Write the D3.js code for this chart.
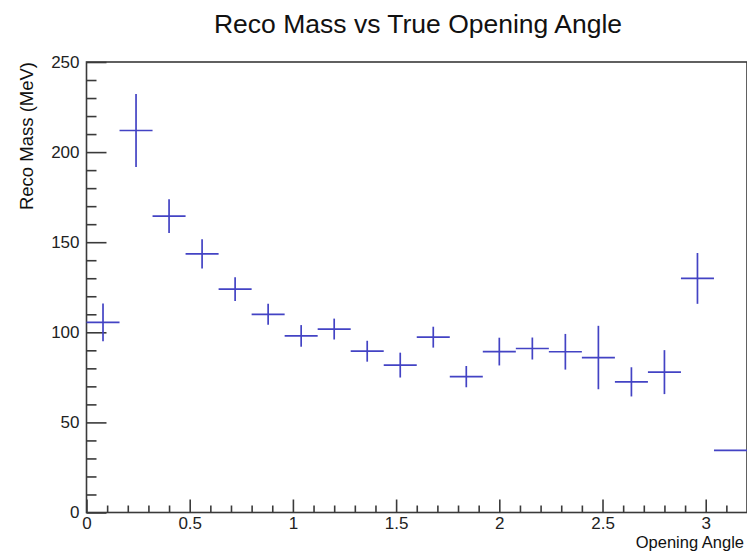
<!DOCTYPE html>
<html>
<head>
<meta charset="utf-8">
<script src="https://cdn.jsdelivr.net/npm/d3@7"></script>
<style>
  html, body { margin: 0; padding: 0; background: #fff; }
  svg { display: block; font-family: "Liberation Sans", Arial, Helvetica, sans-serif; }
</style>
</head>
<body>
<svg id="chart" width="747" height="552"></svg>
<script>
// ---- data ----
const binCenters = [0.08, 0.24, 0.40, 0.56, 0.72, 0.88, 1.04, 1.20, 1.36, 1.52,
                    1.68, 1.84, 2.00, 2.16, 2.32, 2.48, 2.64, 2.80, 2.96, 3.12];
const binHalfWidth = 0.08;
const recoMass = [105.5, 212, 164.5, 143.5, 124, 110, 98, 101.8, 89.5, 81.8,
                  97.3, 75.4, 89.3, 91, 89.2, 86, 72.5, 77.9, 129.9, 34.5];
const recoMassErr = [10.5, 20.3, 9.4, 8.1, 6.6, 5.8, 6.0, 5.8, 5.8, 6.9,
                     5.8, 5.9, 7.7, 6.1, 9.9, 17.6, 8.1, 12.2, 14.1, 0];
const xMajorTicks = [0, 0.5, 1, 1.5, 2, 2.5, 3];
const xTickLabels = ["0", "0.5", "1", "1.5", "2", "2.5", "3"];
const xMinorTicks = [0.1, 0.2, 0.3, 0.4, 0.6, 0.7, 0.8, 0.9, 1.1, 1.2, 1.3, 1.4,
                     1.6, 1.7, 1.8, 1.9, 2.1, 2.2, 2.3, 2.4, 2.6, 2.7, 2.8, 2.9, 3.1];
const yMajorTicks = [0, 50, 100, 150, 200, 250];
const yTickLabels = ["0", "50", "100", "150", "200", "250"];
const yMinorTicks = [10, 20, 30, 40, 60, 70, 80, 90, 110, 120, 130, 140,
                     160, 170, 180, 190, 210, 220, 230, 240];
const titleText = "Reco Mass vs True Opening Angle";
const xTitle = "Opening Angle";
const yTitle = "Reco Mass (MeV)";

// ---- layout ----
const svg = d3.select("#chart");
const x = d3.scaleLinear().domain([0, 3.2]).range([86.5, 747]);
const y = d3.scaleLinear().domain([0, 250]).range([512.5, 62]);
const axisColor = "#3a3a3a";
const markColor = "#4343c4";

// frame
svg.append("rect")
  .attr("x", x(0)).attr("y", y(250))
  .attr("width", x(3.2) - x(0)).attr("height", y(0) - y(250))
  .attr("fill", "none").attr("stroke", axisColor).attr("stroke-width", 1.6);

// y axis
const yMajor = d3.axisLeft(y).tickValues(yMajorTicks)
  .tickFormat((d, i) => yTickLabels[i])
  .tickSizeInner(-20).tickSizeOuter(0).tickPadding(7);
const yMinor = d3.axisLeft(y).tickValues(yMinorTicks)
  .tickFormat("").tickSizeInner(-10).tickSizeOuter(0);
const gy = svg.append("g").attr("transform", `translate(${x(0)},0)`).call(yMajor);
const gy2 = svg.append("g").attr("transform", `translate(${x(0)},0)`).call(yMinor);

// x axis
const xMajor = d3.axisBottom(x).tickValues(xMajorTicks)
  .tickFormat((d, i) => xTickLabels[i])
  .tickSizeInner(-13).tickSizeOuter(0).tickPadding(4.5);
const xMinor = d3.axisBottom(x).tickValues(xMinorTicks)
  .tickFormat("").tickSizeInner(-7).tickSizeOuter(0);
const gx = svg.append("g").attr("transform", `translate(0,${y(0)})`).call(xMajor);
const gx2 = svg.append("g").attr("transform", `translate(0,${y(0)})`).call(xMinor);

[gy, gy2, gx, gx2].forEach(g => {
  g.select(".domain").remove();
  g.selectAll(".tick line").attr("stroke", axisColor).attr("stroke-width", 1.6);
  g.selectAll(".tick text")
    .attr("fill", "#222")
    .style("font-size", "17px")
    .style("font-family", "'Liberation Sans', Arial, sans-serif");
});

// data: error crosses
const pts = svg.append("g").attr("stroke", markColor).attr("stroke-width", 1.7)
  .attr("fill", "none");
binCenters.forEach((c, i) => {
  const v = recoMass[i], e = recoMassErr[i];
  pts.append("line")
    .attr("x1", x(c - binHalfWidth)).attr("x2", x(c + binHalfWidth))
    .attr("y1", y(v)).attr("y2", y(v));
  if (e > 0) {
    pts.append("line")
      .attr("x1", x(c)).attr("x2", x(c))
      .attr("y1", y(v - e)).attr("y2", y(v + e));
  }
});

// titles
svg.append("text")
  .attr("x", 418).attr("y", 33)
  .attr("text-anchor", "middle")
  .attr("fill", "#111")
  .style("font-size", "26.5px")
  .text(titleText);

svg.append("text")
  .attr("x", 744).attr("y", 548)
  .attr("text-anchor", "end")
  .attr("fill", "#111")
  .style("font-size", "16.5px")
  .text(xTitle);

svg.append("text")
  .attr("transform", `translate(33,${y(250)}) rotate(-90)`)
  .attr("text-anchor", "end")
  .attr("fill", "#111")
  .style("font-size", "18.5px")
  .text(yTitle);
</script>
</body>
</html>
